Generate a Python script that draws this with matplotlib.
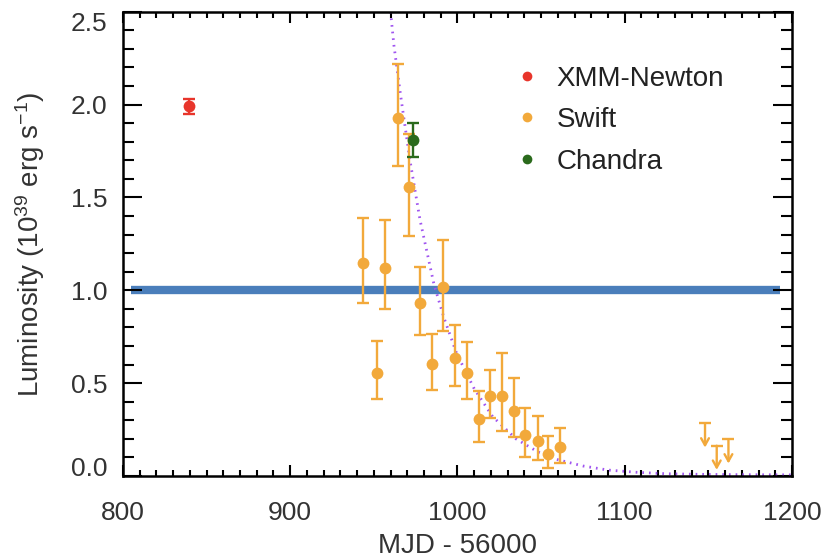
import matplotlib
matplotlib.use("Agg")
import matplotlib.pyplot as plt
from matplotlib.transforms import ScaledTranslation
import numpy as np

plt.rcParams['font.family'] = ['Liberation Sans', 'DejaVu Sans']
plt.rcParams['mathtext.fontset'] = 'custom'
plt.rcParams['mathtext.rm'] = 'Liberation Sans'
plt.rcParams['mathtext.it'] = 'Liberation Sans:italic'
plt.rcParams['mathtext.bf'] = 'Liberation Sans:bold'

# ---- data ----
xmm_x = [839.5]
xmm_y = [1.99]
xmm_lo = [0.04]
xmm_hi = [0.04]

chandra_x = [973.4]
chandra_y = [1.81]
chandra_lo = [0.09]
chandra_hi = [0.09]

swift_x = [943.5, 951.8, 956.6, 964.2, 970.8, 977.6, 984.6, 991.3, 998.5,
           1005.5, 1012.7, 1019.4, 1026.8, 1033.6, 1040.2, 1048.3, 1054.3, 1061.5]
swift_y = [1.145, 0.557, 1.12, 1.93, 1.554, 0.932, 0.604, 1.016, 0.638,
           0.552, 0.305, 0.43, 0.43, 0.349, 0.219, 0.187, 0.117, 0.156]
swift_upper = [1.39, 0.727, 1.376, 2.22, 1.844, 1.125, 0.767, 1.27, 0.813,
               0.724, 0.457, 0.57, 0.663, 0.527, 0.367, 0.321, 0.215, 0.26]
swift_lower = [0.93, 0.412, 0.90, 1.67, 1.295, 0.76, 0.462, 0.78, 0.484,
               0.412, 0.181, 0.313, 0.24, 0.211, 0.102, 0.088, 0.043, 0.072]

ul_x = [1148, 1155, 1162]
ul_y = [0.283, 0.163, 0.197]
ul_len = 0.13

model_x = [960, 962, 966, 971.6, 977.6, 986, 992, 999.5, 1010, 1021, 1035,
           1048, 1059, 1075, 1090, 1107, 1125, 1145, 1170, 1200]
model_y = [2.50, 2.32, 2.05, 1.70, 1.38, 1.03, 0.85, 0.66, 0.47, 0.32, 0.20,
           0.13, 0.09, 0.054, 0.032, 0.020, 0.012, 0.009, 0.007, 0.006]

ref_level = 1.0
ref_x0, ref_x1 = 805, 1193

red = '#e8352b'
orange = '#f2a93b'
green = '#2a6a1c'
blue = '#4a7ebb'
purple = '#a055f0'

fig = plt.figure(figsize=(8.25, 5.6), dpi=100)
ax = fig.add_axes([0.149, 0.15, 0.811, 0.829])

ax.hlines(ref_level, ref_x0, ref_x1, color=blue, lw=6, zorder=1)
ax.plot(model_x, model_y, color=purple, lw=2.0, ls=(0, (0.6, 1.8)), zorder=2)

sw_lo = np.array(swift_y) - np.array(swift_lower)
sw_hi = np.array(swift_upper) - np.array(swift_y)
ax.errorbar(swift_x, swift_y, yerr=[sw_lo, sw_hi], fmt='o', color=orange,
            ms=8.5, mec='none', elinewidth=1.7, capsize=4, capthick=1.7, zorder=3)
ax.errorbar(xmm_x, xmm_y, yerr=[xmm_lo, xmm_hi], fmt='o', color=red,
            ms=8.5, mec='none', elinewidth=1.7, capsize=4, capthick=1.7, zorder=3)
ax.errorbar(chandra_x, chandra_y, yerr=[chandra_lo, chandra_hi], fmt='o', color=green,
            ms=8.5, mec='none', elinewidth=1.7, capsize=4, capthick=1.7, zorder=3)

for xx, yy in zip(ul_x, ul_y):
    ax.annotate('', xy=(xx, yy - ul_len), xytext=(xx, yy),
                arrowprops=dict(arrowstyle='->,head_length=0.5,head_width=0.28',
                                color=orange, lw=1.7, shrinkA=0, shrinkB=0))
ax.plot(ul_x, ul_y, ls='none', marker='_', ms=8, mew=1.7, color=orange)

# legend
h1, = ax.plot([], [], 'o', color=red, ms=7, mec='none')
h2, = ax.plot([], [], 'o', color=orange, ms=7, mec='none')
h3, = ax.plot([], [], 'o', color=green, ms=7, mec='none')
ax.legend([h1, h2, h3], ['XMM-Newton', 'Swift', 'Chandra'], loc='upper left',
          bbox_to_anchor=(0.592, 0.884), frameon=False, fontsize=20,
          handlelength=0.6, handletextpad=0.75, labelspacing=0.56,
          borderpad=0, borderaxespad=0, labelcolor='#222222')

ax.set_xlim(800, 1200)
ax.set_ylim(0, 2.5)
ax.set_xticks([800, 900, 1000, 1100, 1200])
ax.set_xticks(np.arange(800, 1201, 10), minor=True)
ax.set_yticks([0.0, 0.5, 1.0, 1.5, 2.0, 2.5])
ax.set_yticks(np.arange(0, 2.51, 0.1), minor=True)
ax.set_yticklabels(['0.0', '0.5', '1.0', '1.5', '2.0', '2.5'])

ax.tick_params(axis='both', which='both', direction='in', top=True, right=True,
               width=1.5, colors='black', labelsize=19, labelcolor='#333333')
ax.tick_params(axis='x', which='major', length=8, pad=18)
ax.tick_params(axis='x', which='minor', length=4)
ax.tick_params(axis='y', which='major', length=14, pad=11)
ax.tick_params(axis='y', which='minor', length=8)
for s in ax.spines.values():
    s.set_linewidth(1.8)

ax.set_xlabel('MJD - 56000', fontsize=20, color='#333333', labelpad=6)
ax.set_ylabel(r'Luminosity (10$^{\mathregular{39}}$ erg s$^{\mathregular{-1}}$)',
              fontsize=20, color='#333333', labelpad=17)

# shift extreme y labels inward as in the reference
yt = ax.yaxis.get_major_ticks()
yt[0].label1.set_transform(yt[0].label1.get_transform() + ScaledTranslation(0, 10/100, fig.dpi_scale_trans))
yt[-1].label1.set_transform(yt[-1].label1.get_transform() + ScaledTranslation(0, -10/100, fig.dpi_scale_trans))

fig.savefig('out.png', dpi=100)
